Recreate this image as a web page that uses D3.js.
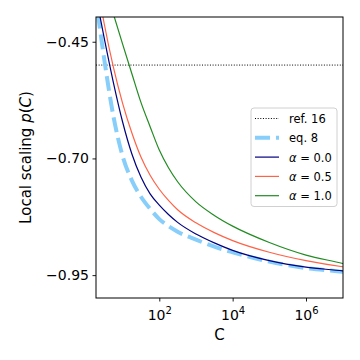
<!DOCTYPE html>
<html>
<head>
<meta charset="utf-8">
<script src="https://cdn.jsdelivr.net/npm/d3@7"></script>
<style>
  body { margin: 0; background: #fff; }
  text { font-family: "DejaVu Sans", sans-serif; fill: #000; }
</style>
</head>
<body>
<svg id="chart"></svg>
<script>
// Data
const cValues = [1.78, 3.16, 5.62, 10, 17.8, 31.6, 56.2, 1e2, 178, 316, 1e3, 3162, 1e4, 1e5, 1e6, 1e7, 1.26e7];
const eq8 = [-0.345, -0.488, -0.61, -0.695, -0.747, -0.782, -0.808, -0.83, -0.845, -0.857, -0.874, -0.889, -0.901, -0.921, -0.935, -0.943, -0.944];
const alpha00 = [-0.342, -0.443, -0.538, -0.622, -0.69, -0.74, -0.776, -0.8, -0.82, -0.837, -0.862, -0.881, -0.897, -0.919, -0.933, -0.941, -0.942];
const alpha05 = [-0.3, -0.412, -0.505, -0.582, -0.645, -0.697, -0.736, -0.766, -0.79, -0.81, -0.838, -0.859, -0.876, -0.901, -0.919, -0.932, -0.933];
const alpha10 = [-0.26, -0.326, -0.391, -0.455, -0.518, -0.58, -0.632, -0.682, -0.72, -0.75, -0.793, -0.822, -0.845, -0.88, -0.907, -0.925, -0.927];
const ref16 = -0.5;
const xTicks = [1e2, 1e4, 1e6];
const yTicks = [-0.45, -0.7, -0.95];
const legendLabels = ["ref. 16", "eq. 8", "\u03b1 = 0.0", "\u03b1 = 0.5", "\u03b1 = 1.0"];

// Set the size
let width = 360;
let height = 360;
let margin = { top: 17, right: 17, bottom: 62, left: 96 };

let svg = d3.select("#chart").attr("width", width).attr("height", height);

let x = d3
  .scaleLog()
  .domain([1.88, 1.02e7])
  .range([margin.left, width - margin.right]);
let y = d3
  .scaleLinear()
  .domain([-0.999, -0.397])
  .range([height - margin.bottom, margin.top]);

svg
  .append("clipPath")
  .attr("id", "clip")
  .append("rect")
  .attr("x", margin.left)
  .attr("y", margin.top)
  .attr("width", width - margin.left - margin.right)
  .attr("height", height - margin.top - margin.bottom);

let plot = svg.append("g").attr("clip-path", "url(#clip)");

let line = d3
  .line()
  .x((d) => x(d[0]))
  .y((d) => y(d[1]))
  .curve(d3.curveMonotoneX);

let series = [
  { values: eq8, color: "#87cefa", width: 4, dash: "15,6" },
  { values: alpha00, color: "navy", width: 1.2, dash: null },
  { values: alpha05, color: "tomato", width: 1.2, dash: null },
  { values: alpha10, color: "forestgreen", width: 1.2, dash: null },
];

// Reference line
plot
  .append("line")
  .attr("x1", margin.left)
  .attr("x2", width - margin.right)
  .attr("y1", y(ref16))
  .attr("y2", y(ref16))
  .attr("stroke", "#000")
  .attr("stroke-width", 1)
  .attr("stroke-dasharray", "1,1.65");

series.forEach((s) => {
  plot
    .append("path")
    .datum(cValues.map((c, i) => [c, s.values[i]]))
    .attr("fill", "none")
    .attr("stroke", s.color)
    .attr("stroke-width", s.width)
    .attr("stroke-dasharray", s.dash)
    .attr("d", line);
});

// Axes
let xAxis = svg
  .append("g")
  .attr("transform", "translate(0," + (height - margin.bottom) + ")")
  .call(d3.axisBottom(x).tickValues(xTicks).tickSize(3.5).tickPadding(4).tickFormat(""));
xAxis.select(".domain").remove();
xAxis
  .selectAll(".tick")
  .append("text")
  .attr("y", 22)
  .attr("text-anchor", "middle")
  .style("font-size", "14px")
  .each(function (d) {
    let t = d3.select(this);
    t.append("tspan").text("10");
    t.append("tspan")
      .attr("dy", -6)
      .style("font-size", "10px")
      .text(Math.round(Math.log10(d)));
  });

let yAxis = svg
  .append("g")
  .attr("transform", "translate(" + margin.left + ",0)")
  .call(
    d3
      .axisLeft(y)
      .tickValues(yTicks)
      .tickSize(3.5)
      .tickPadding(3.5)
      .tickFormat((d) => d3.format(".2f")(d).replace("-", "\u2212"))
  );
yAxis.select(".domain").remove();
yAxis.selectAll("text").style("font-size", "14px");
svg.selectAll(".tick line").attr("stroke", "#000").attr("stroke-width", 0.9);

// Frame
svg
  .append("rect")
  .attr("x", margin.left)
  .attr("y", margin.top)
  .attr("width", width - margin.left - margin.right)
  .attr("height", height - margin.top - margin.bottom)
  .attr("fill", "none")
  .attr("stroke", "#000")
  .attr("stroke-width", 1);

// Axis labels
svg
  .append("text")
  .attr("x", (margin.left + width - margin.right) / 2)
  .attr("y", 340)
  .attr("text-anchor", "middle")
  .style("font-size", "15px")
  .text("C");

let yLabel = svg
  .append("text")
  .attr("transform", "translate(31," + (margin.top + height - margin.bottom) / 2 + ") rotate(-90)")
  .attr("text-anchor", "middle")
  .style("font-size", "15px");
yLabel.append("tspan").text("Local scaling ");
yLabel.append("tspan").style("font-style", "italic").text("p");
yLabel.append("tspan").text("(");
yLabel.append("tspan").style("font-style", "italic").text("C");
yLabel.append("tspan").text(")");

// Legend
let legend = svg.append("g").attr("transform", "translate(251,108)");
legend
  .append("rect")
  .attr("width", 86)
  .attr("height", 98.5)
  .attr("rx", 3)
  .attr("fill", "#fff")
  .attr("fill-opacity", 0.8)
  .attr("stroke", "#d0d0d0")
  .attr("stroke-width", 1);

let legendStyles = [
  { color: "#000", width: 1, dash: "1,1.65" },
  series[0],
  series[1],
  series[2],
  series[3],
];
legendLabels.forEach((label, i) => {
  let row = legend.append("g").attr("transform", "translate(0," + (10.5 + i * 19.3) + ")");
  row
    .append("line")
    .attr("x1", 4)
    .attr("x2", 28)
    .attr("stroke", legendStyles[i].color)
    .attr("stroke-width", legendStyles[i].width)
    .attr("stroke-dasharray", legendStyles[i].dash);
  let t = row
    .append("text")
    .attr("x", 38)
    .attr("y", 4.5)
    .style("font-size", "11.5px");
  if (i < 2) {
    t.text(label);
  } else {
    t.append("tspan").style("font-style", "italic").text("\u03b1");
    t.append("tspan").text(label.slice(1));
  }
});
</script>
</body>
</html>
